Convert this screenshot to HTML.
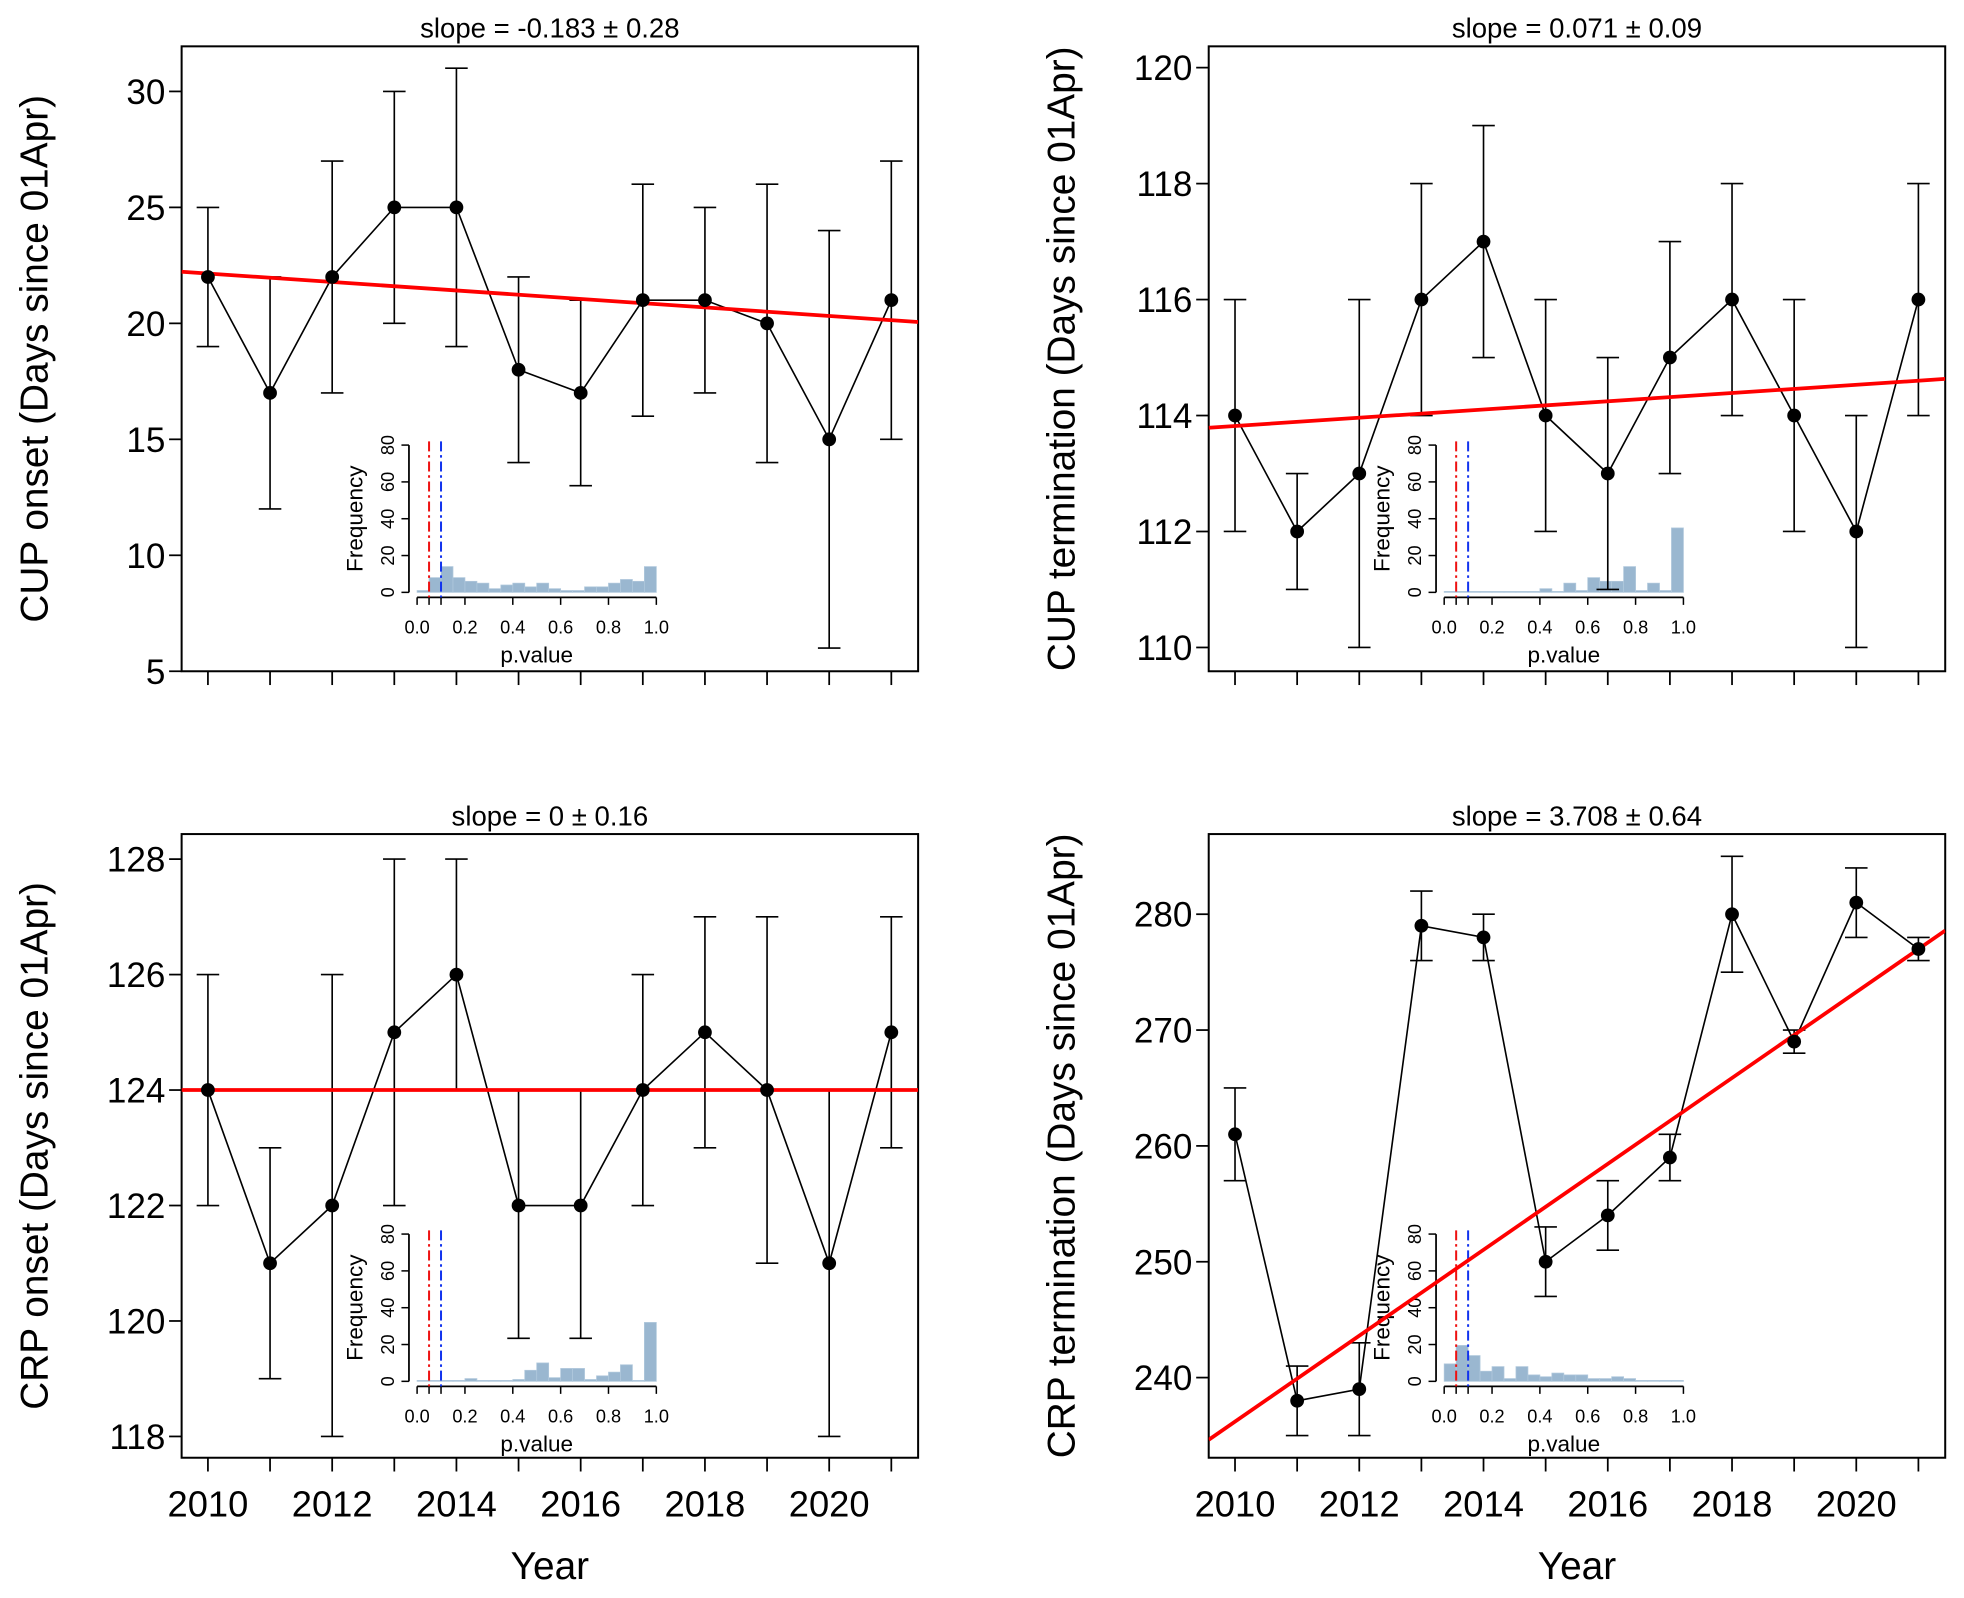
<!DOCTYPE html>
<html><head><meta charset="utf-8"><style>
html,body{margin:0;padding:0;background:#fff;}
svg{display:block;font-family:"Liberation Sans",Arial,sans-serif;}
</style></head><body>
<svg id="fig" width="1964" height="1598" viewBox="0 0 1568 1276" preserveAspectRatio="none" xmlns="http://www.w3.org/2000/svg"></svg>
<script>
const years = [2010,2011,2012,2013,2014,2015,2016,2017,2018,2019,2020,2021];
const xTickLabels = [2010,2012,2014,2016,2018,2020];

const cupOnsetY  = [22,17,22,25,25,18,17,21,21,20,15,21];
const cupOnsetLo = [19,12,17,20,19,14,13,16,17,14,6,15];
const cupOnsetHi = [25,22,27,30,31,22,21,26,25,26,24,27];
const cupOnsetTicks = [5,10,15,20,25,30];
const cupOnsetSlope = -0.183, cupOnsetIntercept = 22.15;
const cupOnsetHist = [1,8,14,8,6,5,2,4,5,3,5,2,1,1,3,3,5,7,6,14];

const cupTermY  = [114,112,113,116,117,114,113,115,116,114,112,116];
const cupTermLo = [112,111,110,114,115,112,111,113,114,112,110,114];
const cupTermHi = [116,113,116,118,119,116,115,117,118,116,114,118];
const cupTermTicks = [110,112,114,116,118,120];
const cupTermSlope = 0.071, cupTermIntercept = 113.82;
const cupTermHist = [0.5,0.5,0.5,0.5,0.5,0.5,0.5,0.5,2,0.5,5,1,8,6,6,14,1,5,1,35];

const crpOnsetY  = [124,121,122,125,126,122,122,124,125,124,121,125];
const crpOnsetLo = [122,119,118,122,124,119.7,119.7,122,123,121,118,123];
const crpOnsetHi = [126,123,126,128,128,124,124,126,127,127,124,127];
const crpOnsetTicks = [118,120,122,124,126,128];
const crpOnsetSlope = 0, crpOnsetIntercept = 124;
const crpOnsetHist = [0.5,0.5,0.5,0.5,1.5,0.5,0.5,0.5,1,6,10,2,7,7,1,3,5,9,0.5,32];

const crpTermY  = [261,238,239,279,278,250,254,259,280,269,281,277];
const crpTermLo = [257,235,235,276,276,247,251,257,275,268,278,276];
const crpTermHi = [265,241,243,282,280,253,257,261,285,270,284,278];
const crpTermTicks = [240,250,260,270,280];
const crpTermSlope = 3.708, crpTermIntercept = 236.2;
const crpTermHist = [9.5,19.5,14,5.5,8,1.5,8,3.5,2.5,4.5,3.5,3.5,1.5,1.5,2.5,1.5,0.5,0.5,0.5,0.5];

const histTicks = [0,0.2,0.4,0.6,0.8,1.0];
const freqTicks = [0,20,40,60,80];

const NS = "http://www.w3.org/2000/svg";
const svg = document.getElementById('fig');
function el(tag, attrs, parent, txt){
  const e = document.createElementNS(NS, tag);
  for (const k in attrs) e.setAttribute(k, attrs[k]);
  if (txt !== undefined) e.textContent = txt;
  (parent||svg).appendChild(e);
  return e;
}

function panel(o){
  const g = el('g', {});
  
  
  const L=o.x0, R=o.x1, T=o.y0, B=o.y1;
  const xs = yr => o.px2010 + (yr-2010)*49.6;
  const ys = v => o.vyA + (v-o.vA)*(o.vyB-o.vyA)/(o.vB-o.vA);
  const cid = 'clip-'+o.name;
  const cp = el('clipPath', {id:cid}, g);
  el('rect', {x:L,y:T,width:R-L,height:B-T}, cp);
  const box = el('rect', {x:L,y:T,width:R-L,height:B-T,fill:'none',stroke:'#000','stroke-width':1.6}, g);
  
  
  const t = el('text', {x:(L+R)/2,y:T-7,'font-size':22,'text-anchor':'middle'}, g, o.title);
  
  
  o.yticks.forEach(v=>{
    const y=ys(v);
    el('line',{x1:L-10,x2:L,y1:y,y2:y,stroke:'#000','stroke-width':1.4},g);
    const tl = el('text',{x:L-13,y:y+10,'font-size':28,'text-anchor':'end'},g,String(v));
    
    
  });
  const yl = el('text',{transform:`translate(${L-107},${(T+B)/2}) rotate(-90)`,'font-size':31,'text-anchor':'middle'},g,o.ylabel);
  
  
  years.forEach(yr=>{
    el('line',{x1:xs(yr),x2:xs(yr),y1:B,y2:B+11,stroke:'#000','stroke-width':1.4},g);
  });
  if (o.xlabels){
    xTickLabels.forEach(yr=>{
      const tl = el('text',{x:xs(yr),y:B+47,'font-size':29,'text-anchor':'middle'},g,String(yr));
      
      
    });
    const xl = el('text',{x:(L+R)/2,y:B+97,'font-size':31,'text-anchor':'middle'},g,'Year');
    
    
  }
  const hx0=o.hx, hx1=o.hx+191, hb=o.hb;
  const hxs = p => hx0 + p*(hx1-hx0);
  const hys = f => hb - f*(117.6/80);
  const ig = el('g',{},g);
  
  
  o.hist.forEach((f,i)=>{
    const b = el('rect',{x:hxs(i*0.05),y:hys(f),width:hxs(0.05)-hxs(0),height:hb-hys(f),fill:'#9ab7d0',stroke:'#b0c8dc','stroke-width':0.6},ig);
    
    
  });
  const ay = hb+4;
  el('line',{x1:hxs(0),x2:hxs(1),y1:ay,y2:ay,stroke:'#000','stroke-width':1.4},ig);
  [0,0.05,0.1,0.2,0.4,0.6,0.8,1.0].forEach(p=>{
    el('line',{x1:hxs(p),x2:hxs(p),y1:ay,y2:ay+6,stroke:'#000','stroke-width':1.2},ig);
  });
  histTicks.forEach(p=>{
    el('text',{x:hxs(p),y:ay+29,'font-size':14.5,'text-anchor':'middle'},ig,p.toFixed(1));
  });
  el('text',{x:(hx0+hx1)/2,y:ay+52,'font-size':18,'text-anchor':'middle'},ig,'p.value');
  const yax = hx0-6.5;
  el('line',{x1:yax,x2:yax,y1:hys(0),y2:hys(80),stroke:'#000','stroke-width':1.4},ig);
  freqTicks.forEach(f=>{
    el('line',{x1:yax-6,x2:yax,y1:hys(f),y2:hys(f),stroke:'#000','stroke-width':1.2},ig);
    el('text',{transform:`translate(${yax-12},${hys(f)}) rotate(-90)`,'font-size':14.5,'text-anchor':'middle'},ig,String(f));
  });
  el('text',{transform:`translate(${yax-37},${hys(40)}) rotate(-90)`,'font-size':18,'text-anchor':'middle'},ig,'Frequency');
  const rl = el('line',{x1:hxs(0.05),x2:hxs(0.05),y1:hys(82),y2:ay,stroke:'#ee1111','stroke-width':1.6,'stroke-dasharray':'8,3,2,3'},ig);
  
  
  const bl = el('line',{x1:hxs(0.1),x2:hxs(0.1),y1:hys(82),y2:ay,stroke:'#1133ee','stroke-width':1.6,'stroke-dasharray':'8,3,2,3'},ig);
  
  
  years.forEach((yr,i)=>{
    const x=xs(yr), yl=ys(o.lo[i]), yh=ys(o.hi[i]);
    const eb = el('path',{d:`M${x},${yl}V${yh}M${x-9},${yl}H${x+9}M${x-9},${yh}H${x+9}`,stroke:'#000','stroke-width':1.3,fill:'none'},g);
    
    
  });
  const ln = el('polyline',{points:years.map((yr,i)=>xs(yr)+','+ys(o.y[i])).join(' '),fill:'none',stroke:'#000','stroke-width':1.3},g);
  
  
  const yrL = 2010+(L-o.px2010)/49.6, yrR = 2010+(R-o.px2010)/49.6;
  const tr = el('line',{x1:L,x2:R,y1:ys(o.b+o.m*(yrL-2010)),y2:ys(o.b+o.m*(yrR-2010)),stroke:'#ff0000','stroke-width':3,'clip-path':`url(#${cid})`},g);
  
  
  years.forEach((yr,i)=>{
    const c = el('circle',{cx:xs(yr),cy:ys(o.y[i]),r:5.5,fill:'#000'},g);
    
    
  });
}

panel({name:'cup-onset-panel',x0:145,x1:733,y0:37,y1:536,px2010:166,vA:30,vyA:73,vB:5,vyB:536,
  yticks:cupOnsetTicks,y:cupOnsetY,lo:cupOnsetLo,hi:cupOnsetHi,m:cupOnsetSlope,b:cupOnsetIntercept,
  hist:cupOnsetHist,hx:333,hb:473,title:'slope = -0.183 \u00b1 0.28',ylabel:'CUP onset (Days since 01Apr)',xlabels:false});
panel({name:'cup-termination-panel',x0:965,x1:1553,y0:37,y1:536,px2010:986,vA:120,vyA:54,vB:110,vyB:517,
  yticks:cupTermTicks,y:cupTermY,lo:cupTermLo,hi:cupTermHi,m:cupTermSlope,b:cupTermIntercept,
  hist:cupTermHist,hx:1153,hb:473,title:'slope = 0.071 \u00b1 0.09',ylabel:'CUP termination (Days since 01Apr)',xlabels:false});
panel({name:'crp-onset-panel',x0:145,x1:733,y0:666,y1:1164,px2010:166,vA:128,vyA:686,vB:118,vyB:1147,
  yticks:crpOnsetTicks,y:crpOnsetY,lo:crpOnsetLo,hi:crpOnsetHi,m:crpOnsetSlope,b:crpOnsetIntercept,
  hist:crpOnsetHist,hx:333,hb:1103,title:'slope = 0 \u00b1 0.16',ylabel:'CRP onset (Days since 01Apr)',xlabels:true});
panel({name:'crp-termination-panel',x0:965,x1:1553,y0:666,y1:1164,px2010:986,vA:280,vyA:730,vB:240,vyB:1100,
  yticks:crpTermTicks,y:crpTermY,lo:crpTermLo,hi:crpTermHi,m:crpTermSlope,b:crpTermIntercept,
  hist:crpTermHist,hx:1153,hb:1103,title:'slope = 3.708 \u00b1 0.64',ylabel:'CRP termination (Days since 01Apr)',xlabels:true});
</script>
</body></html>
